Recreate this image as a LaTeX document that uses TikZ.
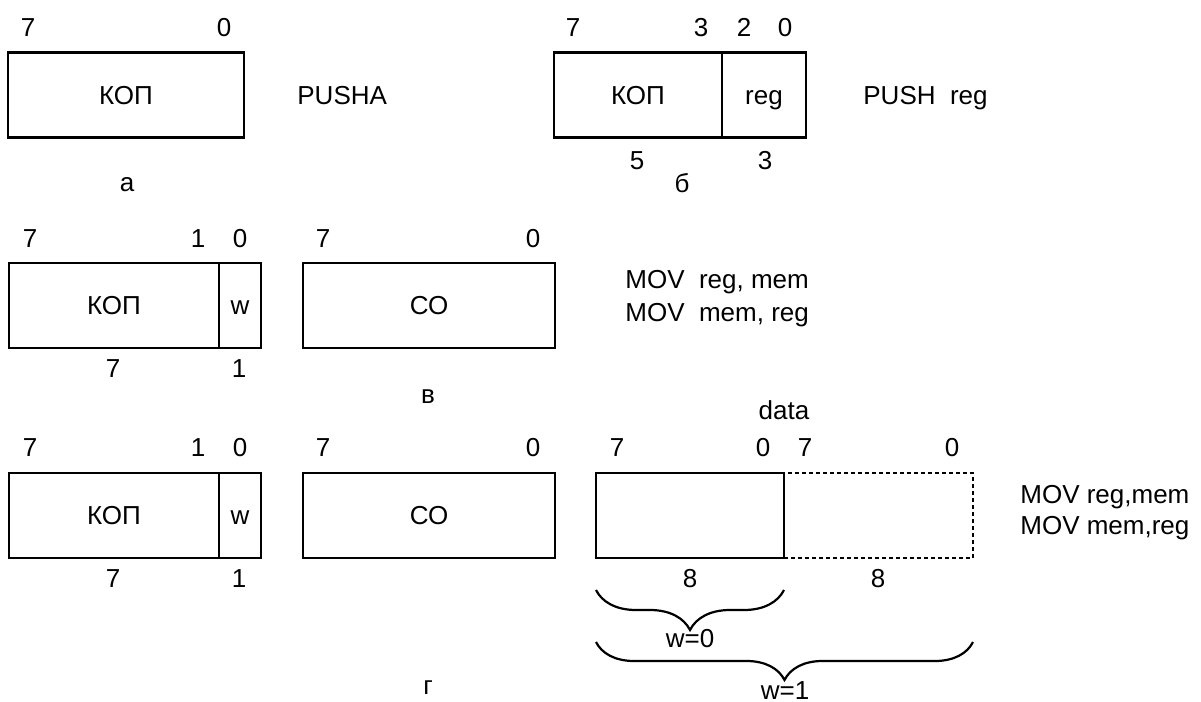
\documentclass[tikz,border=0pt]{standalone}
\usepackage{fontspec}
\setmainfont{Liberation Sans}
\usetikzlibrary{decorations.pathreplacing}

\begin{document}
\begin{tikzpicture}[x=0.5pt, y=-0.5pt,
    font=\fontsize{13}{15.6}\selectfont,
    field/.style={rectangle, draw, line width=1.15pt, minimum height=42.5pt, inner sep=0pt, outer sep=0pt,
      text height=9.3pt, text depth=0pt},
    dfield/.style={field, dash pattern=on 2pt off 1.5pt},
    bitno/.style={inner sep=0pt, text height=9.3pt, text depth=0pt},
    wbrace/.style={decorate, decoration={brace, mirror, amplitude=#1}, line width=1.1pt}]
  \useasboundingbox (0,0) rectangle (1201,702);

  % a) one byte, PUSHA
  \node[field, minimum width=118pt] (kopA) at (126,95) {КОП};
  \node[bitno] (a7) at (28,27) {7};
  \node[bitno] (a0) at (224,27) {0};
  \node[bitno, anchor=west] (pushaTxt) at (297,95) {PUSHA};
  \node[bitno] (capA) at (127,182) {а};

  % b) opcode + reg field
  \node[field, minimum width=84pt] (kopB) at (638,95) {КОП};
  \node[field, minimum width=42pt] (regB) at (764,95) {reg};
  \node[bitno] (b7) at (573,27) {7};
  \node[bitno] (b3) at (701,27) {3};
  \node[bitno] (b2) at (744,27) {2};
  \node[bitno] (b0) at (785,27) {0};
  \node[bitno] (bLen5) at (637,160) {5};
  \node[bitno] (bLen3) at (765,160) {3};
  \node[bitno, anchor=west] (pushTxt) at (863,95) {PUSH\ \ reg};
  \node[bitno] (capB) at (682,183) {б};

  % v) opcode with w bit, then addressing byte
  \node[field, minimum width=105pt] (kopC) at (114,305.5) {КОП};
  \node[field, minimum width=21pt] (wC) at (240,305.5) {w};
  \node[field, minimum width=126pt] (coC) at (429,305.5) {СО};
  \node[bitno] (c7) at (30,238) {7};
  \node[bitno] (c1) at (198,238) {1};
  \node[bitno] (c0) at (240,238) {0};
  \node[bitno] (co7) at (323,238) {7};
  \node[bitno] (co0) at (533,238) {0};
  \node[bitno] (cLen7) at (113,368) {7};
  \node[bitno] (cLen1) at (239,368) {1};
  \node[bitno, anchor=west, align=left, text height=, text depth=] (movC) at (625,298.5) {MOV\ \ reg, mem\\[1pt]MOV\ \ mem, reg};
  \node[bitno] (capC) at (428,394) {в};

  % g) same, plus one or two data bytes
  \node[field, minimum width=105pt] (kopD) at (114,515.5) {КОП};
  \node[field, minimum width=21pt] (wD) at (240,515.5) {w};
  \node[field, minimum width=126pt] (coD) at (429,515.5) {СО};
  \node[dfield, minimum width=94.5pt] (dataH) at (878.5,515.5) {};
  \node[field, minimum width=94pt] (dataL) at (690,515.5) {};
  \node[bitno] (dataTxt) at (784,410) {data};
  \node[bitno] (d7) at (30,447) {7};
  \node[bitno] (d1) at (198,447) {1};
  \node[bitno] (d0) at (240,447) {0};
  \node[bitno] (do7) at (323,447) {7};
  \node[bitno] (do0) at (533,447) {0};
  \node[bitno] (dl7) at (617,447) {7};
  \node[bitno] (dl0) at (763,447) {0};
  \node[bitno] (dh7) at (805,447) {7};
  \node[bitno] (dh0) at (952,447) {0};
  \node[bitno] (dLen7) at (113,578) {7};
  \node[bitno] (dLen1) at (239,578) {1};
  \node[bitno] (dLen8a) at (690,578) {8};
  \node[bitno] (dLen8b) at (878,578) {8};
  \node[bitno, anchor=west, align=left, text height=, text depth=] (movD) at (1020,512.5) {MOV reg,mem\\MOV mem,reg};
  \node[bitno] (capD) at (428,685) {г};

  % braces under the data bytes
  \coordinate (br0a) at ([yshift=-16pt]dataL.south west);
  \coordinate (br0b) at ([yshift=-16pt]dataL.south east);
  \coordinate (br1a) at ([yshift=-42pt]dataL.south west);
  \coordinate (br1b) at ([yshift=-42pt]dataH.south east);
  \draw[wbrace=20pt] (br0a) -- (br0b);
  \draw[wbrace=19pt] (br1a) -- (br1b);
  \node[bitno] (w0Txt) at (690,638) {w=0};
  \node[bitno] (w1Txt) at (785,690) {w=1};
\end{tikzpicture}
\end{document}
